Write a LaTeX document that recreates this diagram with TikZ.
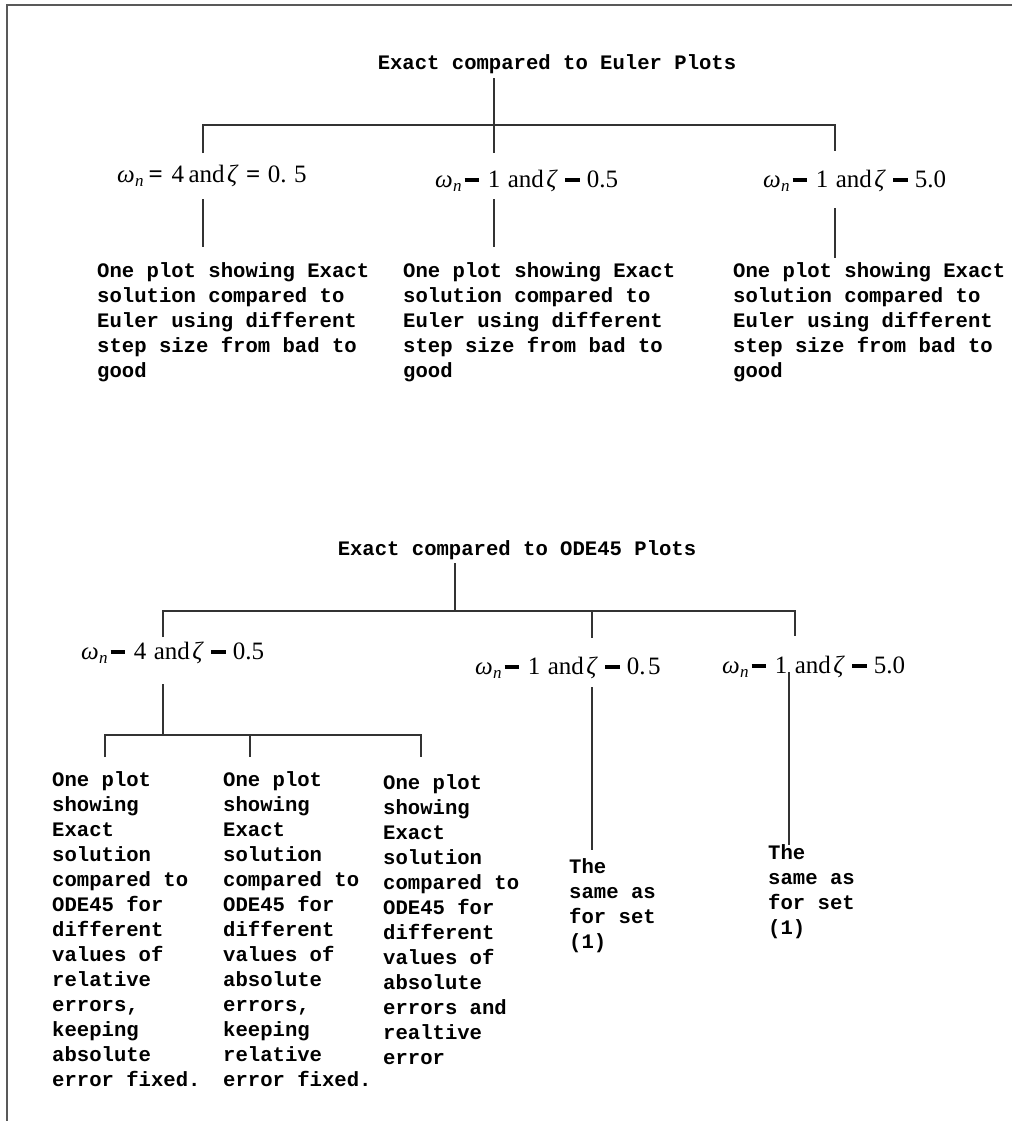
\documentclass[tikz,border=0pt]{standalone}
\usepackage{fontspec}
\newfontfamily\monof{Liberation Mono}
\newfontfamily\tmsf{Liberation Serif}
\newcommand\blk[1]{\vtop{\baselineskip=25pt\lineskiplimit=-100pt\halign{##\hfil\cr#1\crcr}}}
\newcommand\bb{\rule[0.22em]{0.58em}{0.16em}}
\newcommand\wn{\textit{ω}\kern0.01em\raisebox{-0.18em}{\fontsize{17}{17}\selectfont\textit{n}}}
\newcommand\zt{\textit{ζ}}
\newcommand\labx[3]{\wn\hspace{0.12em}#1\hspace{0.35em}#2\hspace{0.3em}and\hspace{0.1em}\zt\hspace{0.3em}#1\hspace{0.28em}#3}
\tikzset{
  txt/.style={font=\monof\bfseries\fontsize{20.6}{25}\selectfont, inner sep=0pt, anchor=base west},
  ttl/.style={font=\monof\bfseries\fontsize{20.6}{25}\selectfont, inner xsep=0pt, inner ysep=4pt, anchor=base},
  lab/.style={font=\tmsf\fontsize{25}{29}\selectfont, inner sep=0pt, anchor=base west},
  ln/.style={draw=black!80, line width=1.2pt},
  frm/.style={draw=black!65, line width=1.6pt}
}
\begin{document}
\begin{tikzpicture}[x=1pt,y=-1pt]
\useasboundingbox (0,0) rectangle (1012,1121);
\fill[white] (0,0) rectangle (1012,1121);
\draw[frm] (7,1121) -- (7,5) -- (1012,5);

% ---------- upper tree ----------
\node[ttl] (t1) at (557,70) {Exact compared to Euler Plots};
\coordinate (b1l) at (203,125);
\coordinate (b1m) at (494,125);
\coordinate (b1r) at (835,125);
\coordinate (u1l) at (203,153);
\coordinate (u1m) at (494,153);
\coordinate (u1r) at (835,151);
\coordinate (d1la) at (203,199);
\coordinate (d1lb) at (203,247);
\coordinate (d1ma) at (494,199);
\coordinate (d1mb) at (494,247);
\coordinate (d1ra) at (835,208);
\coordinate (d1rb) at (835,258);

\node[lab] (l1) at (117,182) {\wn\hspace{0.2em}\textbf{=}\hspace{0.35em}4\hspace{0.18em}and\hspace{0.1em}\zt\hspace{0.3em}\textbf{=}\hspace{0.3em}0.\hspace{0.3em}5};
\node[lab] (l2) at (435,187) {\labx{\bb}{1}{0.5}};
\node[lab] (l3) at (763,187) {\labx{\bb}{1}{5.0}};

\draw[ln] (t1.south -| b1m) -- (b1m) -- (u1m);
\draw[ln] (u1l) -- (b1l) -- (b1r) -- (u1r);
\draw[ln] (d1la) -- (d1lb);
\draw[ln] (d1ma) -- (d1mb);
\draw[ln] (d1ra) -- (d1rb);

\node[txt] (x1) at (97,277) {\blk{One plot showing Exact\cr solution compared to\cr Euler using different\cr step size from bad to\cr good}};
\node[txt] (x2) at (403,277) {\blk{One plot showing Exact\cr solution compared to\cr Euler using different\cr step size from bad to\cr good}};
\node[txt] (x3) at (733,277) {\blk{One plot showing Exact\cr solution compared to\cr Euler using different\cr step size from bad to\cr good}};

% ---------- lower tree ----------
\node[ttl] (t2) at (517,555) {Exact compared to ODE45 Plots};
\coordinate (b2l) at (163,611);
\coordinate (b2s) at (455,611);
\coordinate (b2m) at (592,611);
\coordinate (b2r) at (795,611);
\coordinate (u2l) at (163,637);
\coordinate (u2m) at (592,638);
\coordinate (u2r) at (795,636);

\node[lab] (m1) at (81,659) {\labx{\bb}{4}{0.5}};
\node[lab] (m2) at (475,674) {\labx{\bb}{1}{0.\hspace{0.1em}5}};
\node[lab] (m3) at (722,673) {\labx{\bb}{1}{5.0}};

\draw[ln] (t2.south -| b2s) -- (b2s);
\draw[ln] (u2l) -- (b2l) -- (b2r) -- (u2r);
\draw[ln] (b2m) -- (u2m);

\coordinate (d2a) at (163,684);
\coordinate (b3m) at (163,735);
\coordinate (b3a) at (105,735);
\coordinate (b3b) at (250,735);
\coordinate (b3c) at (421,735);
\coordinate (e3a) at (105,757);
\coordinate (e3b) at (250,757);
\coordinate (e3c) at (421,757);
\draw[ln] (d2a) -- (b3m);
\draw[ln] (e3a) -- (b3a) -- (b3c) -- (e3c);
\draw[ln] (b3b) -- (e3b);

\coordinate (d2ma) at (592,687);
\coordinate (d2mb) at (592,850);
\coordinate (d2ra) at (789,672);
\coordinate (d2rb) at (789,845);
\draw[ln] (d2ma) -- (d2mb);
\draw[ln] (d2ra) -- (d2rb);

\node[txt] (y1) at (52,786) {\blk{One plot\cr showing\cr Exact\cr solution\cr compared to\cr ODE45 for\cr different\cr values of\cr relative\cr errors,\cr keeping\cr absolute\cr error fixed.}};
\node[txt] (y2) at (223,786) {\blk{One plot\cr showing\cr Exact\cr solution\cr compared to\cr ODE45 for\cr different\cr values of\cr absolute\cr errors,\cr keeping\cr relative\cr error fixed.}};
\node[txt] (y3) at (383,789) {\blk{One plot\cr showing\cr Exact\cr solution\cr compared to\cr ODE45 for\cr different\cr values of\cr absolute\cr errors and\cr realtive\cr error}};
\node[txt] (y4) at (569,873) {\blk{The\cr same as\cr for set\cr (1)}};
\node[txt] (y5) at (768,859) {\blk{The\cr same as\cr for set\cr (1)}};
\end{tikzpicture}
\end{document}
